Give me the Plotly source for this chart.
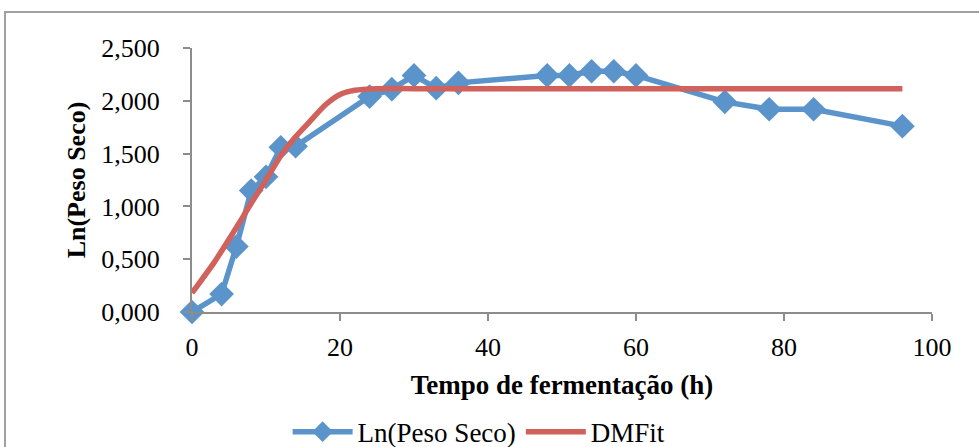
import plotly.graph_objects as go

# Observed data: Ln(Peso Seco)
tempo = [0, 4, 6, 8, 10, 12, 14, 24, 27, 30, 33, 36, 48, 51, 54, 57, 60, 72, 78, 84, 96]
ln_peso = [0.0, 0.17, 0.62, 1.15, 1.28, 1.56, 1.57, 2.04, 2.11, 2.24, 2.12, 2.17,
           2.24, 2.24, 2.28, 2.28, 2.24, 1.99, 1.92, 1.92, 1.76]

# DMFit curve
fit_t = [0, 3, 6, 8, 10, 12, 14, 16, 18, 20, 22, 25, 30, 96]
fit_y = [0.18, 0.47, 0.80, 1.03, 1.25, 1.48, 1.66, 1.81, 1.96, 2.06, 2.10, 2.115, 2.115, 2.115]

x_ticks = [0, 20, 40, 60, 80, 100]
y_ticks = [0, 0.5, 1.0, 1.5, 2.0, 2.5]

BLUE = "#5B94CA"
RED = "#D0615B"
AXIS = "#8C8C8C"
FONT = "Liberation Serif"

fig = go.Figure()
fig.add_trace(go.Scatter(
    x=tempo, y=ln_peso, name="Ln(Peso Seco)", mode="lines+markers",
    line=dict(color=BLUE, width=5.5),
    marker=dict(symbol="diamond", size=19, color=BLUE),
    cliponaxis=False,
))
fig.add_trace(go.Scatter(
    x=fit_t, y=fit_y, name="DMFit", mode="lines",
    line=dict(color=RED, width=5.5, shape="spline", smoothing=0.6),
    cliponaxis=False,
))

fig.update_layout(
    width=979, height=447,
    margin=dict(l=192, r=47, t=48, b=135, autoexpand=False),
    paper_bgcolor="white", plot_bgcolor="white",
    separators=",.",
    font=dict(family=FONT, size=25, color="black"),
    showlegend=True,
    legend=dict(orientation="h", x=0.388, xanchor="center", y=-0.455, yanchor="middle",
                font=dict(family=FONT, size=27), itemwidth=60, tracegroupgap=0),
    xaxis=dict(
        range=[0, 100], tickvals=x_ticks, showgrid=False, zeroline=False,
        showline=True, linecolor=AXIS, linewidth=2,
        ticks="outside", ticklen=7, tickcolor=AXIS, tickwidth=2,
        tickfont=dict(family=FONT, size=26), ticklabelstandoff=4,
        title=dict(text="<b>Tempo de fermentação (h)</b>", font=dict(family=FONT, size=27), standoff=14),
    ),
    yaxis=dict(
        range=[0, 2.5], tickvals=y_ticks, tickformat=".3f", showgrid=False, zeroline=False,
        showline=True, linecolor=AXIS, linewidth=2,
        ticks="outside", ticklen=7, tickcolor=AXIS, tickwidth=2,
        tickfont=dict(family=FONT, size=26), ticklabelstandoff=18,
        title=dict(text="<b>Ln(Peso Seco)</b>", font=dict(family=FONT, size=26), standoff=8),
    ),
    shapes=[dict(type="rect", xref="paper", yref="paper",
                 x0=-0.2527, x1=1.2, y0=-0.7, y1=1.136,
                 line=dict(color="#A0A0A0", width=2), fillcolor="rgba(0,0,0,0)", layer="below")],
)

fig.write_html("out.html")
